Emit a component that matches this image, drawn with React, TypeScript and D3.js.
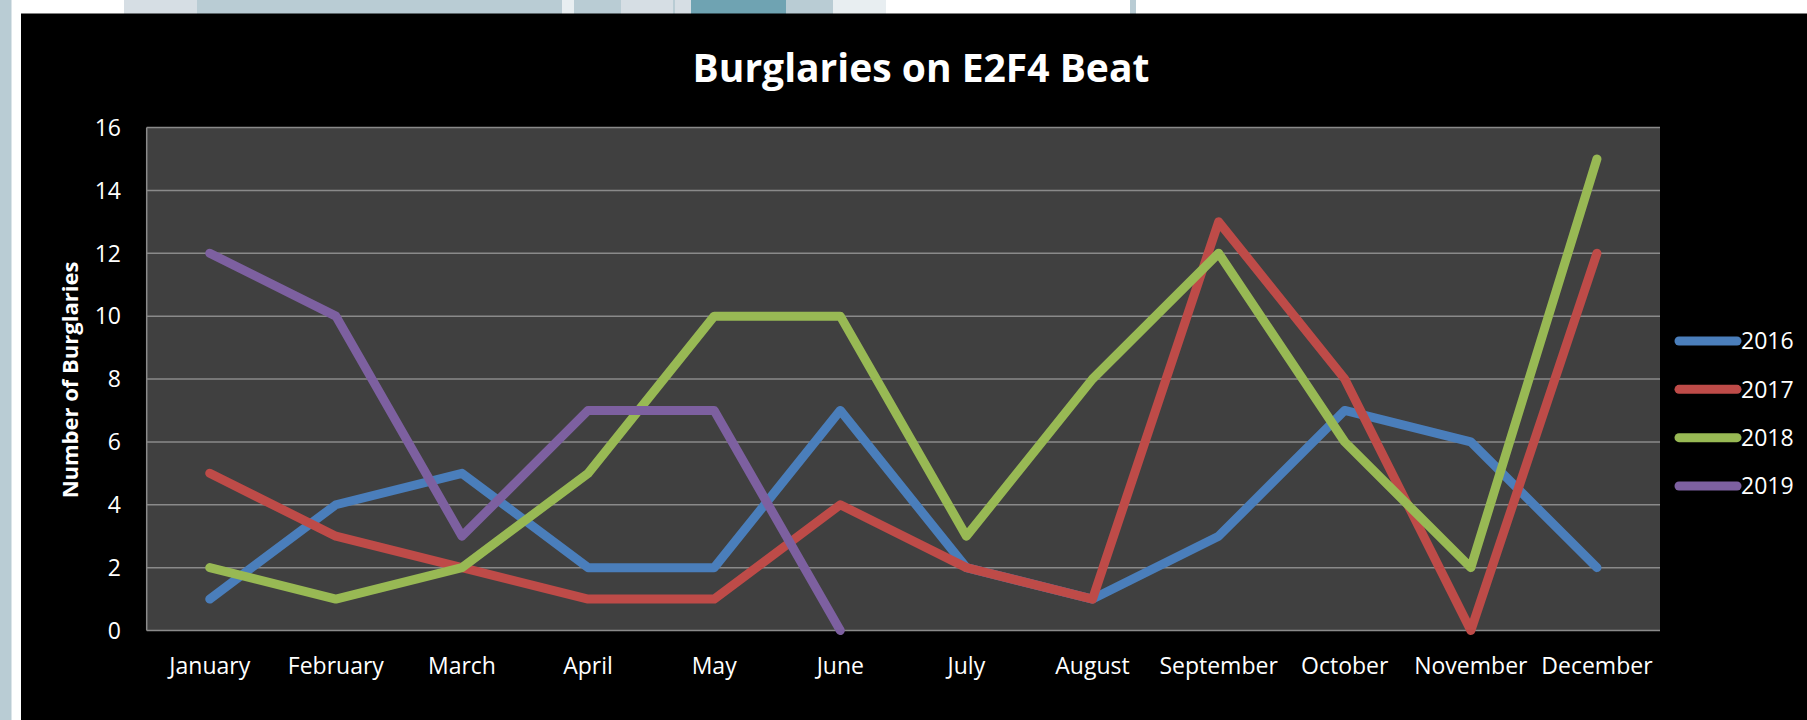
import React from "react";
import * as d3 from "d3";

const months = ["January","February","March","April","May","June","July","August","September","October","November","December"];
const years = ["2016","2017","2018","2019"];
const s2016 = [1,4,5,2,2,7,2,1,3,7,6,2];
const s2017 = [5,3,2,1,1,4,2,1,13,8,0,12];
const s2018 = [2,1,2,5,10,10,3,8,12,6,2,15];
const s2019 = [12,10,3,7,7,0];
const yTicks = [0,2,4,6,8,10,12,14,16];
const colors = ["#4a7ebb","#be4b48","#98b954","#7d60a0"];

// decorative slide strip along the top (x0, x1, colour)
const topStrip: [number, number, string][] = [
  [124,197,"#d6dee4"],[197,562,"#b9ccd4"],[562,574,"#e8eef1"],[574,621,"#b9ccd4"],
  [621,673,"#d6dee4"],[673,675,"#b9ccd4"],[675,691,"#d6dee4"],[691,786,"#6fa3b2"],
  [786,833,"#b9ccd4"],[833,886,"#e8eef1"],[1130,1136,"#b9ccd4"],
];

const W = 1807, H = 720;
const plot = { left: 146.7, right: 1660, top: 127.5, bottom: 630.5 };
const FONT = "'Open Sans', sans-serif";

export default function App() {
  const series = [s2016, s2017, s2018, s2019];
  const x = d3.scaleBand<string>().domain(months).range([plot.left, plot.right]).padding(0);
  const y = d3.scaleLinear().domain([0,16]).range([plot.bottom, plot.top]);
  const cx = (m: string) => (x(m) as number) + x.bandwidth() / 2;
  const line = d3.line<number>().x((_, i) => cx(months[i])).y(d => y(d));
  const legendY = d3.scalePoint<string>().domain(years).range([341, 486]);

  return (
    <svg width={W} height={H} style={{ position: "absolute", left: 0, top: 0, background: "#fff" }}>
      <rect x={0} y={0} width={11.5} height={H} fill="#b9ccd4" />
      {topStrip.map(([a, b, c], i) => (
        <rect key={i} x={a} y={0} width={b - a} height={14} fill={c} />
      ))}
      <rect x={21} y={13.5} width={W - 21} height={H - 13.5} fill="#000" />
      <rect x={plot.left} y={plot.top} width={plot.right - plot.left} height={plot.bottom - plot.top} fill="#404040" />
      {yTicks.map(t => (
        <line key={t} x1={plot.left} x2={plot.right} y1={y(t)} y2={y(t)} stroke="#8a8a8a" strokeWidth={1.5} />
      ))}
      <line x1={plot.left} x2={plot.left} y1={plot.top} y2={plot.bottom} stroke="#8a8a8a" strokeWidth={1.5} />
      {yTicks.map(t => (
        <text key={t} x={121} y={y(t)} dy="0.36em" textAnchor="end" fill="#fff" fontFamily={FONT} fontSize={23}>{t}</text>
      ))}
      {months.map(m => (
        <text key={m} x={cx(m)} y={674} textAnchor="middle" fill="#fff" fontFamily={FONT} fontSize={23}>{m}</text>
      ))}
      {series.map((s, i) => (
        <path key={i} d={line(s) as string} fill="none" stroke={colors[i]} strokeWidth={9} strokeLinecap="round" strokeLinejoin="round" />
      ))}
      {years.map((yr, i) => (
        <g key={yr}>
          <line x1={1679} x2={1737} y1={legendY(yr)} y2={legendY(yr)} stroke={colors[i]} strokeWidth={9} strokeLinecap="round" />
          <text x={1741} y={legendY(yr)} dy="0.36em" fill="#fff" fontFamily={FONT} fontSize={23}>{yr}</text>
        </g>
      ))}
      <text x={921} y={82} textAnchor="middle" fill="#fff" fontFamily={FONT} fontWeight="bold" fontSize={39}>Burglaries on E2F4 Beat</text>
      <text transform="translate(78,380) rotate(-90)" textAnchor="middle" fill="#fff" fontFamily={FONT} fontWeight="bold" fontSize={22}>Number of Burglaries</text>
    </svg>
  );
}
